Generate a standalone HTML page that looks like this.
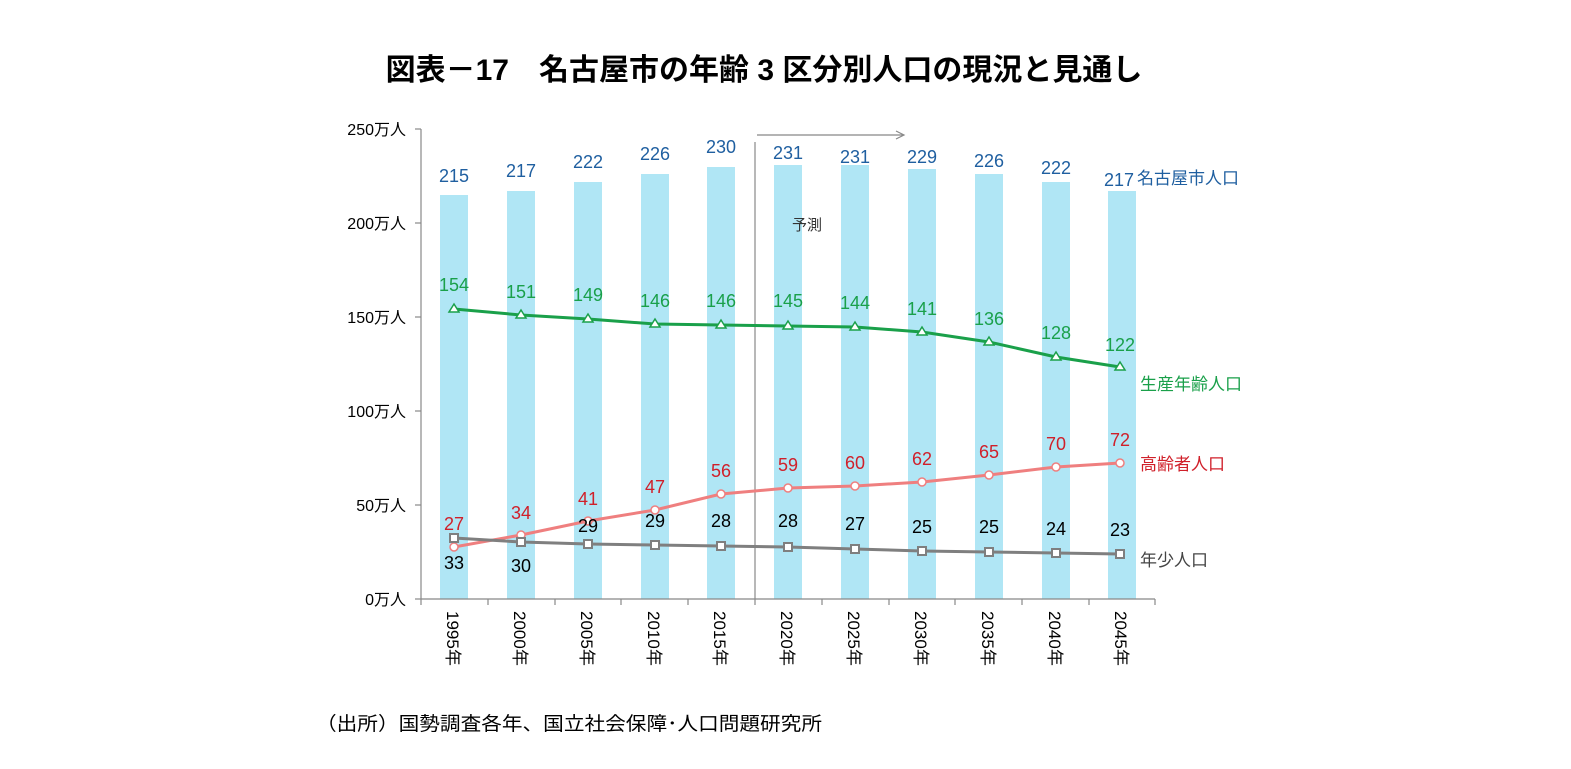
<!DOCTYPE html>
<html><head><meta charset="utf-8"><style>
body{margin:0;background:#fff;}
svg text{font-family:"Liberation Sans","Noto Sans CJK JP",sans-serif;}
</style></head><body>
<svg width="1571" height="764" viewBox="0 0 1571 764" xmlns="http://www.w3.org/2000/svg">
<text x="764" y="80" text-anchor="middle" font-size="30" font-weight="bold" fill="#000">図表－17　名古屋市の年齢 3 区分別人口の現況と見通し</text>
<g fill="#b0e6f5">
<rect x="440" y="195" width="28" height="404"/>
<rect x="507" y="191" width="28" height="408"/>
<rect x="574" y="182" width="28" height="417"/>
<rect x="641" y="174" width="28" height="425"/>
<rect x="707" y="167" width="28" height="432"/>
<rect x="774" y="165" width="28" height="434"/>
<rect x="841" y="165" width="28" height="434"/>
<rect x="908" y="169" width="28" height="430"/>
<rect x="975" y="174" width="28" height="425"/>
<rect x="1042" y="182" width="28" height="417"/>
<rect x="1108" y="191" width="28" height="408"/>
</g>
<g stroke="#888" stroke-width="1.2" fill="none">
<line x1="421" y1="129" x2="421" y2="599"/>
<line x1="421" y1="599" x2="1155" y2="599"/>
<line x1="415" y1="129" x2="421" y2="129"/><line x1="415" y1="223" x2="421" y2="223"/><line x1="415" y1="317" x2="421" y2="317"/><line x1="415" y1="411" x2="421" y2="411"/><line x1="415" y1="505" x2="421" y2="505"/><line x1="415" y1="599" x2="421" y2="599"/>
<line x1="488" y1="599" x2="488" y2="605"/><line x1="555" y1="599" x2="555" y2="605"/><line x1="621" y1="599" x2="621" y2="605"/><line x1="688" y1="599" x2="688" y2="605"/><line x1="755" y1="599" x2="755" y2="605"/><line x1="822" y1="599" x2="822" y2="605"/><line x1="889" y1="599" x2="889" y2="605"/><line x1="955" y1="599" x2="955" y2="605"/><line x1="1022" y1="599" x2="1022" y2="605"/><line x1="1089" y1="599" x2="1089" y2="605"/><line x1="1155" y1="599" x2="1155" y2="605"/><line x1="421" y1="599" x2="421" y2="605"/>
<line x1="755" y1="142" x2="755" y2="599"/>
<line x1="757" y1="135" x2="903" y2="135"/>
<polyline points="896,131 904,135 896,139"/>
</g>
<g font-size="16" fill="#000" text-anchor="end">
<text x="406" y="135">250万人</text><text x="406" y="229">200万人</text><text x="406" y="323">150万人</text><text x="406" y="417">100万人</text><text x="406" y="511">50万人</text><text x="406" y="605">0万人</text>
</g>
<text x="792" y="230" font-size="15" fill="#333">予測</text>
<g font-size="17" fill="#000">
<text transform="translate(447,611) rotate(90)">1995年</text>
<text transform="translate(514,611) rotate(90)">2000年</text>
<text transform="translate(581,611) rotate(90)">2005年</text>
<text transform="translate(648,611) rotate(90)">2010年</text>
<text transform="translate(714,611) rotate(90)">2015年</text>
<text transform="translate(781,611) rotate(90)">2020年</text>
<text transform="translate(848,611) rotate(90)">2025年</text>
<text transform="translate(915,611) rotate(90)">2030年</text>
<text transform="translate(982,611) rotate(90)">2035年</text>
<text transform="translate(1049,611) rotate(90)">2040年</text>
<text transform="translate(1115,611) rotate(90)">2045年</text>
</g>
<g font-size="18" fill="#1f5fa0" text-anchor="middle">
<text x="454" y="182">215</text><text x="521" y="177">217</text><text x="588" y="168">222</text><text x="655" y="160">226</text><text x="721" y="153">230</text><text x="788" y="159">231</text><text x="855" y="163">231</text><text x="922" y="163">229</text><text x="989" y="167">226</text><text x="1056" y="174">222</text><text x="1119" y="186">217</text>
</g>
<text x="1137" y="184" font-size="17" fill="#1f5fa0">名古屋市人口</text>
<polyline fill="none" stroke="#1aa04a" stroke-width="3" points="454,309 521,315 588,319 655,324 721,325 788,326 855,327 922,332 989,342 1056,357 1120,367"/>
<g fill="#fff" stroke="#1aa04a" stroke-width="1.5">
<polygon points="454,304 459,312 449,312"/><polygon points="521,310 526,318 516,318"/><polygon points="588,314 593,322 583,322"/><polygon points="655,319 660,327 650,327"/><polygon points="721,320 726,328 716,328"/><polygon points="788,321 793,329 783,329"/><polygon points="855,322 860,330 850,330"/><polygon points="922,327 927,335 917,335"/><polygon points="989,337 994,345 984,345"/><polygon points="1056,352 1061,360 1051,360"/><polygon points="1120,362 1125,370 1115,370"/>
</g>
<g font-size="18" fill="#1aa04a" text-anchor="middle">
<text x="454" y="291">154</text><text x="521" y="298">151</text><text x="588" y="301">149</text><text x="655" y="307">146</text><text x="721" y="307">146</text><text x="788" y="307">145</text><text x="855" y="309">144</text><text x="922" y="315">141</text><text x="989" y="325">136</text><text x="1056" y="339">128</text><text x="1120" y="351">122</text>
</g>
<text x="1140" y="390" font-size="17" fill="#1aa04a">生産年齢人口</text>
<polyline fill="none" stroke="#ef7f7f" stroke-width="3" points="454,547 521,535 588,521 655,510 721,494 788,488 855,486 922,482 989,475 1056,467 1120,463"/>
<g fill="#fff" stroke="#ef7f7f" stroke-width="1.5">
<circle cx="454" cy="547" r="4"/><circle cx="521" cy="535" r="4"/><circle cx="588" cy="521" r="4"/><circle cx="655" cy="510" r="4"/><circle cx="721" cy="494" r="4"/><circle cx="788" cy="488" r="4"/><circle cx="855" cy="486" r="4"/><circle cx="922" cy="482" r="4"/><circle cx="989" cy="475" r="4"/><circle cx="1056" cy="467" r="4"/><circle cx="1120" cy="463" r="4"/>
</g>
<g font-size="18" fill="#d0202a" text-anchor="middle">
<text x="454" y="530">27</text><text x="521" y="519">34</text><text x="588" y="505">41</text><text x="655" y="493">47</text><text x="721" y="477">56</text><text x="788" y="471">59</text><text x="855" y="469">60</text><text x="922" y="465">62</text><text x="989" y="458">65</text><text x="1056" y="450">70</text><text x="1120" y="446">72</text>
</g>
<text x="1140" y="470" font-size="17" fill="#d0202a">高齢者人口</text>
<polyline fill="none" stroke="#7f7f7f" stroke-width="3" points="454,538 521,542 588,544 655,545 721,546 788,547 855,549 922,551 989,552 1056,553 1120,554"/>
<g fill="#fff" stroke="#7f7f7f" stroke-width="2">
<rect x="450" y="534" width="8" height="8"/><rect x="517" y="538" width="8" height="8"/><rect x="584" y="540" width="8" height="8"/><rect x="651" y="541" width="8" height="8"/><rect x="717" y="542" width="8" height="8"/><rect x="784" y="543" width="8" height="8"/><rect x="851" y="545" width="8" height="8"/><rect x="918" y="547" width="8" height="8"/><rect x="985" y="548" width="8" height="8"/><rect x="1052" y="549" width="8" height="8"/><rect x="1116" y="550" width="8" height="8"/>
</g>
<g font-size="18" fill="#000" text-anchor="middle">
<text x="454" y="569">33</text><text x="521" y="572">30</text><text x="588" y="532">29</text><text x="655" y="527">29</text><text x="721" y="527">28</text><text x="788" y="527">28</text><text x="855" y="530">27</text><text x="922" y="533">25</text><text x="989" y="533">25</text><text x="1056" y="535">24</text><text x="1120" y="536">23</text>
</g>
<text x="1140" y="566" font-size="17" fill="#444">年少人口</text>
<text x="316" y="730" font-size="19" fill="#000" textLength="506" lengthAdjust="spacingAndGlyphs">（出所）国勢調査各年、国立社会保障･人口問題研究所</text>
</svg>
</body></html>
